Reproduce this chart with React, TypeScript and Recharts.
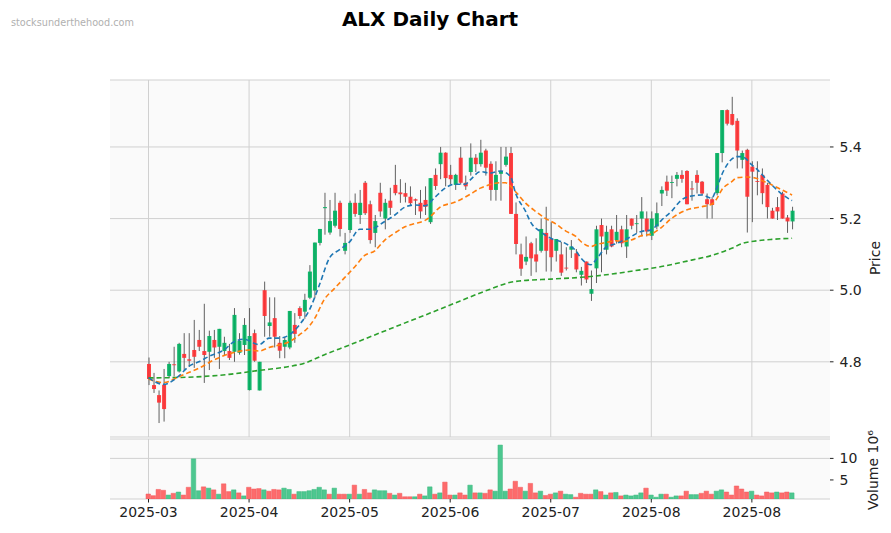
import React from "react";
import { ComposedChart, Bar, Line, XAxis, YAxis, CartesianGrid, Cell } from "recharts";

const FONT = "DejaVu Sans, sans-serif";
const UP = "#00b060";
const DOWN = "#fe3032";
const WICK = "#606060";
const VOL_UP = "#4dc790";
const VOL_DOWN = "#fd6b6c";
const GRID = "#d0d0d0";
const FACE = "#fafafa";

// daily OHLC
const OPEN = [
  4.794, 4.735, 4.707, 4.736, 4.76, 4.793, 4.773, 4.822, 4.807, 4.833,
  4.861, 4.83, 4.828, 4.861, 4.842, 4.83, 4.83, 4.828, 4.825, 4.847,
  4.721, 4.88, 4.72, 5.0, 4.9, 4.922, 4.853, 4.842, 4.84, 4.903,
  4.95, 4.94, 4.979, 4.999, 5.132, 5.229, 5.161, 5.18, 5.244, 5.11,
  5.168, 5.244, 5.21, 5.3, 5.24, 5.16, 5.272, 5.2, 5.25, 5.294,
  5.273, 5.271, 5.261, 5.254, 5.244, 5.252, 5.19, 5.322, 5.352, 5.384,
  5.322, 5.294, 5.37, 5.3, 5.33, 5.37, 5.352, 5.39, 5.353, 5.28,
  5.325, 5.35, 5.383, 5.213, 5.1, 5.08, 5.131, 5.1, 5.11, 5.16,
  5.143, 5.11, 5.1, 5.063, 5.113, 5.103, 5.043, 5.08, 4.99, 5.061,
  5.182, 5.113, 5.17, 5.14, 5.17, 5.122, 5.2, 5.185, 5.2, 5.2,
  5.152, 5.178, 5.27, 5.303, 5.3, 5.311, 5.322, 5.333, 5.284, 5.322,
  5.303, 5.254, 5.254, 5.271, 5.383, 5.503, 5.492, 5.473, 5.364, 5.392,
  5.345, 5.305, 5.322, 5.294, 5.222, 5.232, 5.27, 5.203, 5.192,
];
const HIGH = [
  4.812, 4.769, 4.72, 4.78, 4.8, 4.842, 4.853, 4.88, 4.88, 4.917,
  4.889, 4.962, 4.887, 4.889, 4.892, 4.87, 4.85, 4.95, 4.88, 4.922,
  4.95, 4.89, 4.8, 5.024, 4.98, 4.98, 4.872, 4.87, 4.942, 4.936,
  4.955, 4.99, 5.07, 5.133, 5.171, 5.272, 5.252, 5.272, 5.25, 5.16,
  5.25, 5.27, 5.28, 5.305, 5.25, 5.21, 5.3, 5.255, 5.286, 5.35,
  5.31, 5.3, 5.29, 5.256, 5.28, 5.29, 5.313, 5.34, 5.4, 5.385,
  5.35, 5.325, 5.4, 5.32, 5.41, 5.38, 5.42, 5.395, 5.36, 5.36,
  5.4, 5.4, 5.4, 5.245, 5.13, 5.15, 5.135, 5.145, 5.2, 5.233,
  5.19, 5.143, 5.135, 5.12, 5.14, 5.115, 5.065, 5.08, 5.055, 5.18,
  5.2, 5.18, 5.18, 5.21, 5.18, 5.21, 5.2, 5.21, 5.26, 5.22,
  5.22, 5.245, 5.29, 5.32, 5.32, 5.33, 5.335, 5.335, 5.305, 5.335,
  5.305, 5.27, 5.26, 5.383, 5.503, 5.505, 5.54, 5.48, 5.39, 5.395,
  5.36, 5.36, 5.34, 5.3, 5.23, 5.26, 5.275, 5.21, 5.233,
];
const LOW = [
  4.735, 4.713, 4.629, 4.633, 4.755, 4.759, 4.77, 4.777, 4.786, 4.783,
  4.83, 4.741, 4.777, 4.811, 4.78, 4.816, 4.805, 4.8, 4.82, 4.819,
  4.72, 4.8, 4.72, 4.87, 4.87, 4.84, 4.81, 4.81, 4.835, 4.853,
  4.92, 4.92, 4.975, 4.978, 5.125, 5.155, 5.155, 5.175, 5.15, 5.1,
  5.16, 5.205, 5.185, 5.21, 5.13, 5.12, 5.205, 5.17, 5.21, 5.265,
  5.244, 5.245, 5.235, 5.21, 5.2, 5.21, 5.185, 5.28, 5.31, 5.29,
  5.295, 5.28, 5.295, 5.28, 5.32, 5.33, 5.345, 5.32, 5.25, 5.25,
  5.25, 5.345, 5.213, 5.1, 5.04, 5.07, 5.04, 5.05, 5.105, 5.052,
  5.052, 5.08, 5.04, 5.055, 5.09, 5.05, 5.013, 5.02, 4.97, 5.02,
  5.05, 5.1, 5.12, 5.13, 5.12, 5.09, 5.17, 5.16, 5.15, 5.15,
  5.14, 5.17, 5.235, 5.263, 5.257, 5.29, 5.3, 5.24, 5.25, 5.27,
  5.265, 5.2, 5.2, 5.265, 5.357, 5.46, 5.46, 5.34, 5.34, 5.161,
  5.19, 5.265, 5.24, 5.2, 5.2, 5.196, 5.2, 5.16, 5.17,
];
const CLOSE = [
  4.752, 4.724, 4.686, 4.668, 4.794, 4.791, 4.85, 4.811, 4.803, 4.814,
  4.842, 4.819, 4.872, 4.84, 4.892, 4.853, 4.811, 4.931, 4.859, 4.903,
  4.872, 4.803, 4.8, 4.928, 4.91, 4.87, 4.831, 4.861, 4.942, 4.878,
  4.928, 4.973, 5.052, 5.133, 5.171, 5.232, 5.193, 5.222, 5.171, 5.132,
  5.244, 5.213, 5.244, 5.215, 5.14, 5.193, 5.22, 5.244, 5.23, 5.271,
  5.268, 5.261, 5.243, 5.25, 5.22, 5.233, 5.313, 5.291, 5.384, 5.313,
  5.31, 5.322, 5.3, 5.29, 5.37, 5.352, 5.384, 5.342, 5.28, 5.322,
  5.333, 5.373, 5.213, 5.129, 5.06, 5.093, 5.089, 5.08, 5.171, 5.11,
  5.092, 5.143, 5.049, 5.061, 5.122, 5.058, 5.054, 5.03, 5.003, 5.17,
  5.15, 5.163, 5.122, 5.163, 5.131, 5.17, 5.18, 5.187, 5.22, 5.164,
  5.2, 5.215, 5.28, 5.278, 5.302, 5.322, 5.311, 5.24, 5.282, 5.3,
  5.27, 5.24, 5.238, 5.383, 5.503, 5.465, 5.462, 5.39, 5.383, 5.261,
  5.331, 5.303, 5.271, 5.232, 5.2, 5.22, 5.2, 5.192, 5.222,
];
// volume in millions
const VOLUME = [
  1.74, 1.35, 2.8, 2.6, 1.5, 1.9, 2.2, 1.5, 3.3, 9.9,
  2.5, 3.4, 3.1, 2.7, 1.7, 4.1, 2.3, 2.7, 2.0, 1.3,
  3.3, 2.9, 3.0, 2.7, 2.4, 2.8, 2.7, 3.1, 2.8, 1.7,
  2.3, 2.3, 2.5, 2.8, 3.3, 2.7, 1.7, 3.1, 1.7, 1.7,
  1.7, 3.8, 1.7, 2.8, 2.0, 2.7, 2.5, 2.5, 1.9, 1.5,
  1.9, 1.1, 1.1, 1.1, 1.7, 1.3, 3.4, 1.7, 2.0, 4.5,
  1.5, 1.5, 2.0, 1.5, 3.8, 2.0, 2.0, 1.9, 2.7, 2.4,
  13.1, 2.4, 2.9, 4.7, 3.3, 2.4, 4.2, 2.0, 2.4, 1.4,
  1.7, 2.0, 2.4, 1.7, 1.6, 1.0, 1.9, 1.7, 1.7, 2.7,
  2.3, 1.5, 2.0, 2.1, 1.3, 1.5, 1.3, 1.5, 2.0, 3.1,
  1.5, 1.0, 1.7, 1.7, 1.0, 1.3, 1.3, 2.4, 1.6, 1.6,
  1.9, 2.4, 1.7, 2.4, 2.7, 2.2, 1.5, 3.6, 2.9, 2.2,
  2.4, 1.5, 1.3, 2.2, 2.0, 2.2, 2.0, 2.2, 2.0,
];

// moving averages, sampled from the chart as [bar index, value]
const MA_SHORT: [number, number][] = [
  [0, 4.755], [3, 4.737], [6, 4.76], [8, 4.787], [10, 4.8], [12, 4.815], [15, 4.833],
  [17, 4.856], [19, 4.863], [22, 4.848], [24, 4.866], [26, 4.866], [28, 4.875],
  [30, 4.903], [32, 4.945], [34, 5.015], [36, 5.09], [38, 5.113], [40, 5.135],
  [42, 5.17], [44, 5.17], [47, 5.192], [49, 5.21], [51, 5.232], [53, 5.238],
  [55, 5.236], [57, 5.26], [59, 5.285], [61, 5.296], [63, 5.296], [64, 5.308],
  [66, 5.331], [68, 5.327], [70, 5.333], [72, 5.317], [73, 5.271], [75, 5.22],
  [76, 5.19], [78, 5.163], [80, 5.145], [83, 5.13], [85, 5.11], [86, 5.09],
  [88, 5.071], [89, 5.085], [91, 5.12], [93, 5.13], [94, 5.136], [96, 5.15],
  [98, 5.164], [100, 5.168], [101, 5.18], [102, 5.195], [104, 5.22], [106, 5.252],
  [108, 5.263], [110, 5.266], [112, 5.257], [113, 5.285], [114, 5.322], [116, 5.366],
  [117, 5.373], [118, 5.373], [120, 5.35], [121, 5.338], [123, 5.308], [125, 5.28],
  [126, 5.268], [128, 5.25],
];
const MA_MID: [number, number][] = [
  [0, 4.752], [3, 4.742], [6, 4.758], [8, 4.77], [10, 4.782], [13, 4.805], [17, 4.826],
  [20, 4.833], [22, 4.83], [24, 4.84], [26, 4.847], [28, 4.856], [30, 4.875],
  [32, 4.9], [33, 4.92], [35, 4.975], [37, 5.005], [39, 5.035], [41, 5.065],
  [43, 5.097], [45, 5.11], [47, 5.14], [49, 5.16], [51, 5.177], [53, 5.186],
  [55, 5.195], [56, 5.205], [58, 5.232], [61, 5.246], [64, 5.268], [66, 5.285],
  [68, 5.295], [70, 5.3], [71, 5.3], [73, 5.275], [75, 5.243], [77, 5.22], [79, 5.2],
  [81, 5.185], [83, 5.165], [85, 5.15], [86, 5.136], [88, 5.122], [89, 5.127],
  [91, 5.133], [93, 5.138], [94, 5.136], [96, 5.14], [98, 5.152], [100, 5.157],
  [102, 5.175], [104, 5.2], [107, 5.224], [110, 5.233], [112, 5.24], [113, 5.255],
  [114, 5.28], [116, 5.303], [117, 5.314], [119, 5.316], [121, 5.312], [122, 5.306],
  [124, 5.294], [126, 5.28], [128, 5.266],
];
const MA_LONG: [number, number][] = [
  [0, 4.755], [8, 4.757], [16, 4.765], [22, 4.776], [28, 4.787], [31, 4.796],
  [35, 4.82], [40, 4.847], [45, 4.875], [50, 4.903], [56, 4.936], [62, 4.97],
  [68, 5.003], [72, 5.022], [74, 5.026], [80, 5.031], [86, 5.036], [91, 5.043],
  [96, 5.053], [102, 5.066], [108, 5.084], [112, 5.097], [116, 5.117], [118, 5.13],
  [121, 5.138], [124, 5.142], [128, 5.145],
];

const TICK_IDX = [0, 20, 40, 60, 80, 100, 120];
const TICK_LABELS = ["2025-03", "2025-04", "2025-05", "2025-06", "2025-07", "2025-08", "2025-08"];
const PRICE_TICKS = [4.6, 4.8, 5.0, 5.2, 5.4];
const VOL_TICKS = [5, 10];

const mShort = new Map(MA_SHORT);
const mMid = new Map(MA_MID);
const mLong = new Map(MA_LONG);

const data = CLOSE.map((c, i) => ({
  i,
  o: OPEN[i],
  h: HIGH[i],
  l: LOW[i],
  c,
  range: [LOW[i], HIGH[i]],
  vol: VOLUME[i],
  volUp: i > 0 && c >= CLOSE[i - 1],
  maS: mShort.get(i) ?? null,
  maM: mMid.get(i) ?? null,
  maL: mLong.get(i) ?? null,
}));

const tickLabel = (v: number) => {
  const k = TICK_IDX.indexOf(Number(v));
  return k >= 0 ? TICK_LABELS[k] : "";
};

const Candle = (props: any) => {
  const { x, y, width, height, payload } = props;
  if (!payload || x == null) return null;
  const top = Math.min(y, y + height);
  const hpx = Math.abs(height);
  const span = payload.h - payload.l || 1;
  const py = (v: number) => top + ((payload.h - v) / span) * hpx;
  const cx = x + width / 2;
  const b1 = py(Math.max(payload.o, payload.c));
  const b2 = py(Math.min(payload.o, payload.c));
  const color = payload.c >= payload.o ? UP : DOWN;
  return (
    <g>
      <line x1={cx} x2={cx} y1={top} y2={top + hpx} stroke={WICK} strokeWidth={1} />
      <rect x={x} y={b1} width={width} height={Math.max(b2 - b1, 0.9)} fill={color} fillOpacity={0.92} />
    </g>
  );
};

const tickStyle = { fontSize: 14, fill: "#222", fontFamily: FONT };
const X_PAD = { left: 36, right: 35.4 };

export default function App() {
  return (
    <div style={{ position: "absolute", left: 0, top: 0, width: 891, height: 533, background: "#fff", fontFamily: FONT }}>
      <div style={{ position: "absolute", left: 0, top: 0 }}>
        <ComposedChart width={891} height={440} data={data} margin={{ top: 80, right: 11, bottom: 3, left: 110 }}>
          <CartesianGrid fill={FACE} stroke={GRID} verticalValues={TICK_IDX} />
          <XAxis dataKey="i" type="category" hide padding={X_PAD} />
          <YAxis
            orientation="right"
            width={50}
            domain={[4.59, 5.587]}
            allowDataOverflow
            ticks={PRICE_TICKS}
            tickFormatter={(v: number) => v.toFixed(1)}
            axisLine={false}
            tickLine={{ stroke: "#222" }}
            tickSize={3.5}
            tickMargin={6}
            tick={tickStyle}
          />
          <Bar dataKey="range" barSize={4} shape={<Candle />} isAnimationActive={false} />
          <Line dataKey="maL" stroke="#2ca02c" strokeWidth={1.6} strokeDasharray="5 3" dot={false} connectNulls type="monotone" isAnimationActive={false} />
          <Line dataKey="maM" stroke="#ff7f0e" strokeWidth={1.6} strokeDasharray="5 3" dot={false} connectNulls type="monotone" isAnimationActive={false} />
          <Line dataKey="maS" stroke="#1f77b4" strokeWidth={1.6} strokeDasharray="5 3" dot={false} connectNulls type="monotone" isAnimationActive={false} />
        </ComposedChart>
      </div>
      <div style={{ position: "absolute", left: 0, top: 430 }}>
        <ComposedChart width={891} height={103} data={data} margin={{ top: 9, right: 11, bottom: 4, left: 110 }}>
          <CartesianGrid fill={FACE} stroke={GRID} verticalValues={TICK_IDX} />
          <XAxis
            dataKey="i"
            type="category"
            padding={X_PAD}
            height={30}
            interval={19}
            tickFormatter={tickLabel}
            axisLine={false}
            tickLine={{ stroke: "#222" }}
            tickSize={3.5}
            tickMargin={5}
            tick={tickStyle}
          />
          <YAxis
            orientation="right"
            width={50}
            domain={[0.58, 14.5]}
            allowDataOverflow
            ticks={VOL_TICKS}
            axisLine={false}
            tickLine={{ stroke: "#222" }}
            tickSize={3.5}
            tickMargin={6}
            tick={tickStyle}
          />
          <Bar dataKey="vol" barSize={4.5} isAnimationActive={false}>
            {data.map((d) => (
              <Cell key={d.i} fill={d.volUp ? VOL_UP : VOL_DOWN} stroke={d.volUp ? "#3cb97f" : "#f25a5c"} strokeWidth={0.5} />
            ))}
          </Bar>
        </ComposedChart>
      </div>
      <svg width={891} height={533} style={{ position: "absolute", left: 0, top: 0, pointerEvents: "none" }}>
        <text x={430} y={26} textAnchor="middle" fontSize={20} fontWeight="bold" fill="#000" fontFamily={FONT}>
          ALX Daily Chart
        </text>
        <text x={11} y={26} fontSize={9.7} fill="#b0b0b0" fontFamily={FONT}>
          stocksunderthehood.com
        </text>
        <text x={875} y={258} transform="rotate(-90 875 258)" textAnchor="middle" dominantBaseline="central" fontSize={14} fill="#222" fontFamily={FONT}>
          Price
        </text>
        <text x={873} y={470} transform="rotate(-90 873 470)" textAnchor="middle" dominantBaseline="central" fontSize={14} fill="#222" fontFamily={FONT}>
          Volume  10⁶
        </text>
      </svg>
    </div>
  );
}
